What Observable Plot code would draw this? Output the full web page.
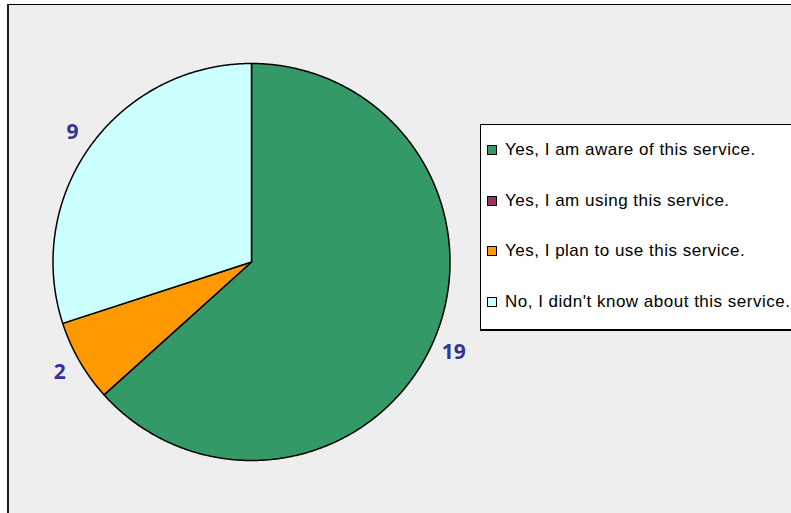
<!DOCTYPE html>
<html>
<head>
<meta charset="utf-8">
<script src="https://cdn.jsdelivr.net/npm/d3@7"></script>
<script src="https://cdn.jsdelivr.net/npm/@observablehq/plot@0.6"></script>
<style>
  html, body { margin: 0; padding: 0; background: #fff; }
  #wrap { position: relative; width: 791px; height: 513px; overflow: hidden; background: #fff; }
  #bg { position: absolute; left: 7px; top: 4px; width: 800px; height: 520px; background: #eeeeee;
        border-left: 2px solid #1a1a1a; border-top: 1px solid #000; }
  #chart { position: absolute; left: 0; top: 0; }
  #legend { position: absolute; left: 480px; top: 124px; width: 312px; height: 207px; background: #fff;
            border: 1px solid #000; border-bottom-width: 2px; box-sizing: border-box;
            font-family: "Liberation Sans", Arial, sans-serif; font-size: 17px; letter-spacing: 0.5px; color: #000; }
  .row { position: absolute; left: 6px; height: 20px; display: flex; align-items: center; white-space: nowrap; }
  .sw { width: 8px; height: 8px; border: 1px solid #000; margin-right: 8px; flex: none; }
</style>
</head>
<body>
<div id="wrap">
  <div id="bg"></div>
  <div id="chart"></div>
  <div id="legend"></div>
</div>
<script>
const categories = [
  "Yes, I am aware of this service.",
  "Yes, I am using this service.",
  "Yes, I plan to use this service.",
  "No, I didn't know about this service."
];
const values = [19, 0, 2, 9];
const colors = ["#339966", "#993366", "#ff9900", "#ccffff"];

const arcs = d3.pie().sort(null).value(d => d)(values);

// slice outlines (center -> arc -> center), built from the pie angles
const slicePts = [];
arcs.forEach((a, i) => {
  if (values[i] <= 0) return;
  const cat = categories[i];
  slicePts.push({x: 0, y: 0, cat});
  const n = Math.max(2, Math.ceil((a.endAngle - a.startAngle) / 0.005));
  for (let k = 0; k <= n; k++) {
    const t = a.startAngle + (a.endAngle - a.startAngle) * k / n;
    slicePts.push({x: Math.sin(t), y: -Math.cos(t), cat});
  }
  slicePts.push({x: 0, y: 0, cat});
});

const labelR = 1.115;
const labels = arcs
  .map((a, i) => ({a, v: values[i]}))
  .filter(d => d.v > 0)
  .map(d => {
    const m = (d.a.startAngle + d.a.endAngle) / 2;
    return {x: labelR * Math.sin(m), y: -labelR * Math.cos(m), text: String(d.v)};
  });

const cx = 251, cy = 261.5, r = 198.5;
const chart = Plot.plot({
  width: 791,
  height: 513,
  margin: 0,
  style: {background: "transparent", overflow: "visible"},
  x: {domain: [-1, 1], range: [cx - r, cx + r], axis: null},
  y: {domain: [-1, 1], range: [cy - r, cy + r], axis: null},
  color: {domain: categories, range: colors},
  marks: [
    Plot.line(slicePts, {x: "x", y: "y", z: "cat", fill: "cat", stroke: "#000", strokeWidth: 1.5, strokeLinejoin: "round"}),
    Plot.text(labels, {x: "x", y: "y", text: "text", fill: "#333399", fontWeight: "bold", fontSize: 21,
                       fontFamily: "'Open Sans', sans-serif", textAnchor: "middle", lineAnchor: "middle"})
  ]
});
document.getElementById("chart").appendChild(chart);

const legend = document.getElementById("legend");
categories.forEach((c, i) => {
  const row = document.createElement("div");
  row.className = "row";
  row.style.top = (15 + i * 50.7) + "px";
  const sw = document.createElement("span");
  sw.className = "sw";
  sw.style.background = colors[i];
  const tx = document.createElement("span");
  tx.textContent = c;
  row.appendChild(sw);
  row.appendChild(tx);
  legend.appendChild(row);
});
</script>
</body>
</html>
